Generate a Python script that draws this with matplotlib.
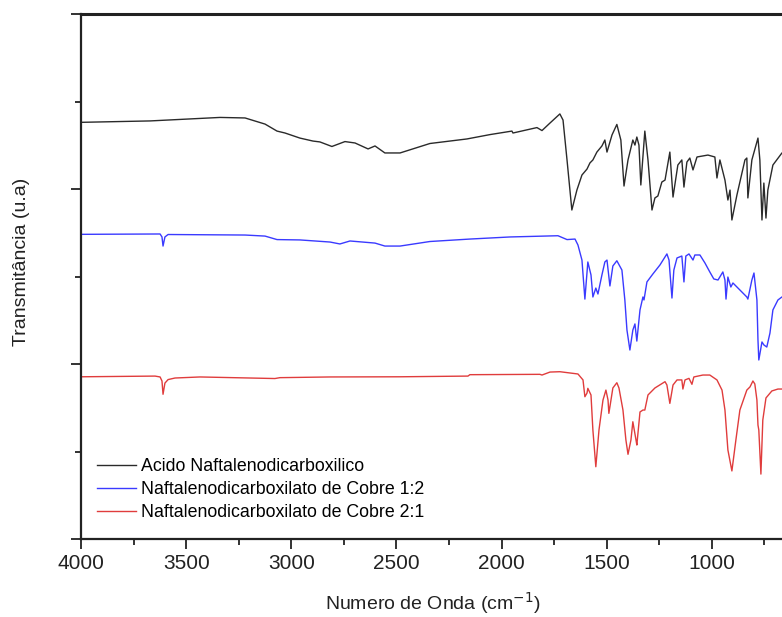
import numpy as np
import matplotlib
matplotlib.use('Agg')
import matplotlib.pyplot as plt
from matplotlib.ticker import MultipleLocator, NullFormatter

plt.rcParams['font.family'] = ['Liberation Sans', 'DejaVu Sans']

# FTIR spectra (wavenumber in cm-1, transmittance in arbitrary units, offset per sample)
acido_x = [4000, 3672, 3339, 3220, 3125, 3068, 3030, 2959, 2897, 2864, 2807, 2745, 2697,
           2635, 2602, 2555, 2483, 2341, 2165, 2055, 1951, 1946, 1832, 1808, 1770, 1723,
           1708, 1689, 1666, 1642, 1618, 1594, 1580, 1566, 1547, 1523, 1509, 1499, 1475,
           1452, 1433, 1418, 1399, 1376, 1366, 1357, 1347, 1338, 1319, 1304, 1285, 1271,
           1257, 1238, 1223, 1200, 1185, 1162, 1143, 1133, 1119, 1105, 1090, 1071, 1019,
           986, 976, 962, 938, 924, 914, 905, 881, 843, 834, 829, 810, 781, 772, 762,
           753, 743, 734, 710, 667, 600]
acido_y = [2.381, 2.389, 2.409, 2.406, 2.371, 2.331, 2.320, 2.291, 2.274, 2.269, 2.243,
           2.271, 2.263, 2.229, 2.246, 2.206, 2.206, 2.260, 2.286, 2.311, 2.331, 2.320,
           2.351, 2.334, 2.377, 2.429, 2.394, 2.166, 1.880, 1.994, 2.080, 2.114, 2.149,
           2.166, 2.211, 2.246, 2.280, 2.211, 2.309, 2.369, 2.280, 2.017, 2.166, 2.280,
           2.251, 2.297, 2.251, 2.023, 2.331, 2.166, 1.880, 1.949, 1.960, 2.040, 2.051,
           2.211, 1.954, 2.137, 2.166, 2.011, 2.154, 2.177, 2.109, 2.183, 2.194, 2.183,
           2.063, 2.166, 2.051, 1.937, 1.994, 1.823, 1.966, 2.166, 2.177, 1.949, 2.166,
           2.291, 2.166, 1.823, 2.034, 1.834, 1.994, 2.137, 2.206, 2.223]

cobre12_x = [4000, 3624, 3615, 3610, 3601, 3586, 3220, 3125, 3068, 2959, 2816, 2769, 2721,
             2602, 2555, 2483, 2341, 2151, 1960, 1732, 1689, 1651, 1637, 1618, 1604, 1590,
             1575, 1566, 1552, 1542, 1523, 1509, 1499, 1485, 1471, 1452, 1428, 1414, 1404,
             1390, 1376, 1366, 1357, 1342, 1328, 1323, 1309, 1281, 1247, 1214, 1204, 1190,
             1181, 1166, 1143, 1133, 1124, 1109, 1090, 1081, 1057, 1033, 1010, 991, 971,
             948, 938, 933, 924, 910, 900, 867, 834, 829, 810, 800, 786, 781, 777, 762,
             753, 739, 724, 710, 686, 667, 600]
cobre12_y = [1.741, 1.743, 1.726, 1.674, 1.726, 1.740, 1.737, 1.731, 1.711, 1.709, 1.697,
             1.686, 1.703, 1.691, 1.674, 1.674, 1.700, 1.714, 1.726, 1.733, 1.711, 1.714,
             1.680, 1.594, 1.371, 1.583, 1.509, 1.383, 1.434, 1.400, 1.509, 1.583, 1.594,
             1.446, 1.560, 1.590, 1.537, 1.366, 1.194, 1.080, 1.194, 1.229, 1.131, 1.309,
             1.383, 1.366, 1.469, 1.514, 1.566, 1.629, 1.594, 1.377, 1.537, 1.606, 1.617,
             1.469, 1.617, 1.629, 1.594, 1.623, 1.623, 1.577, 1.526, 1.486, 1.480, 1.526,
             1.480, 1.371, 1.497, 1.440, 1.463, 1.423, 1.383, 1.371, 1.480, 1.520, 1.366,
             1.137, 1.023, 1.126, 1.109, 1.097, 1.177, 1.309, 1.366, 1.383, 1.400]

cobre21_x = [4000, 3648, 3624, 3615, 3610, 3601, 3586, 3553, 3434, 3078, 3054, 2816, 2483,
             2160, 2151, 1818, 1808, 1770, 1723, 1637, 1613, 1604, 1594, 1590, 1575, 1566,
             1552, 1537, 1518, 1504, 1494, 1490, 1480, 1471, 1452, 1442, 1423, 1409, 1399,
             1385, 1376, 1361, 1357, 1342, 1328, 1319, 1304, 1271, 1223, 1214, 1200, 1185,
             1166, 1143, 1138, 1128, 1109, 1095, 1086, 1043, 1010, 976, 952, 938, 924, 905,
             886, 867, 834, 819, 805, 796, 786, 781, 777, 767, 758, 743, 715, 686, 667, 600]
cobre21_y = [0.927, 0.931, 0.926, 0.903, 0.827, 0.891, 0.911, 0.920, 0.926, 0.917, 0.922,
             0.926, 0.927, 0.931, 0.939, 0.941, 0.937, 0.954, 0.956, 0.943, 0.909, 0.813,
             0.834, 0.861, 0.823, 0.623, 0.413, 0.623, 0.794, 0.851, 0.794, 0.718, 0.794,
             0.863, 0.893, 0.863, 0.737, 0.566, 0.484, 0.566, 0.670, 0.566, 0.537, 0.726,
             0.737, 0.737, 0.823, 0.863, 0.899, 0.880, 0.775, 0.880, 0.909, 0.909, 0.857,
             0.909, 0.918, 0.884, 0.926, 0.937, 0.937, 0.909, 0.851, 0.737, 0.509, 0.389,
             0.566, 0.737, 0.851, 0.869, 0.903, 0.886, 0.794, 0.651, 0.623, 0.371, 0.680,
             0.806, 0.846, 0.857, 0.857, 0.860]

labels = ['Acido Naftalenodicarboxilico',
          'Naftalenodicarboxilato de Cobre 1:2',
          'Naftalenodicarboxilato de Cobre 2:1']

fig = plt.figure(figsize=(7.82, 6.17), dpi=100)
# right spine sits just past the figure edge
ax = fig.add_axes([0.1036, 0.1264, 0.9009, 0.8509])

ax.plot(acido_x, acido_y, color='#2a2a2a', lw=1.0, label=labels[0])
ax.plot(cobre12_x, cobre12_y, color='#3a3aff', lw=1.0, label=labels[1])
ax.plot(cobre21_x, cobre21_y, color='#e03c3c', lw=1.0, label=labels[2])

ax.set_xlim(4000, 650)
ax.set_ylim(0, 3)

ax.xaxis.set_major_locator(MultipleLocator(500))
ax.xaxis.set_minor_locator(MultipleLocator(250))
ax.yaxis.set_major_locator(MultipleLocator(1))
ax.yaxis.set_minor_locator(MultipleLocator(0.5))
ax.yaxis.set_major_formatter(NullFormatter())

ax.tick_params(which='major', direction='out', length=7, width=1.3, labelsize=15,
               colors='#222222', pad=4)
ax.tick_params(which='minor', direction='out', length=4, width=1.3, colors='#222222')
ax.tick_params(top=False, right=False)

ax.spines['top'].set_linewidth(2.2)
ax.spines['left'].set_linewidth(1.6)
ax.spines['bottom'].set_linewidth(1.6)
for s in ax.spines.values():
    s.set_color('#222222')

ax.set_xlabel('Numero de Onda (cm$^{-1}$)', fontsize=14, color='#222222', labelpad=12)
ax.set_ylabel('Transmitância (u.a)', fontsize=14, color='#222222')
ax.yaxis.set_label_coords(-0.072, 0.528)

ax.legend(loc='center left', bbox_to_anchor=(0.0, 0.094), frameon=False, fontsize=12.8,
          handlelength=2.2, handletextpad=0.3, labelspacing=0.34)

fig.savefig('out.png', dpi=100)
